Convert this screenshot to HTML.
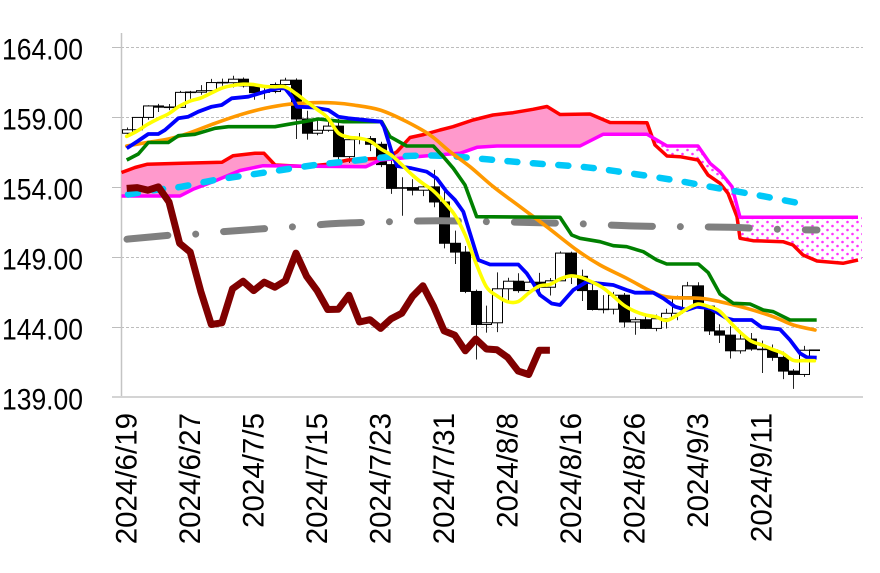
<!DOCTYPE html>
<html><head><meta charset="utf-8">
<style>
html,body{margin:0;padding:0;background:#fff;}
svg{display:block;}
text{font-family:"Liberation Sans","Noto Sans CJK JP",sans-serif;fill:#000;}
</style></head>
<body>
<svg id="c" width="880" height="573" viewBox="0 0 880 573" xmlns="http://www.w3.org/2000/svg">
<defs>
<pattern id="dots" width="10" height="8" patternUnits="userSpaceOnUse">
<rect width="10" height="8" fill="#fff"/>
<circle cx="2.5" cy="2" r="1.3" fill="#ff33ff"/>
<circle cx="7.5" cy="6" r="1.3" fill="#ff33ff"/>
</pattern>
</defs>
<rect width="880" height="573" fill="#fff"/>
<g stroke="#bdbdbd" stroke-width="1" stroke-dasharray="3 2">
<line x1="121" y1="47.5" x2="863" y2="47.5"/>
<line x1="121" y1="117.5" x2="863" y2="117.5"/>
<line x1="121" y1="187.5" x2="863" y2="187.5"/>
<line x1="121" y1="257.5" x2="863" y2="257.5"/>
<line x1="121" y1="327.5" x2="863" y2="327.5"/>
</g>
<g stroke="#bdbdbd" stroke-width="1">
<line x1="112" y1="47.5" x2="121" y2="47.5"/>
<line x1="112" y1="117.5" x2="121" y2="117.5"/>
<line x1="112" y1="187.5" x2="121" y2="187.5"/>
<line x1="112" y1="257.5" x2="121" y2="257.5"/>
<line x1="112" y1="327.5" x2="121" y2="327.5"/>
</g>
<line x1="121.5" y1="33" x2="121.5" y2="397" stroke="#c4c4c4" stroke-width="1.5"/>
<line x1="112" y1="397" x2="863" y2="397" stroke="#d4d4d4" stroke-width="2"/>
<g font-size="30">
<text x="2" y="59.5" textLength="81" lengthAdjust="spacingAndGlyphs">164.00</text>
<text x="2" y="129.5" textLength="81" lengthAdjust="spacingAndGlyphs">159.00</text>
<text x="2" y="199.5" textLength="81" lengthAdjust="spacingAndGlyphs">154.00</text>
<text x="2" y="269.5" textLength="81" lengthAdjust="spacingAndGlyphs">149.00</text>
<text x="2" y="339.5" textLength="81" lengthAdjust="spacingAndGlyphs">144.00</text>
<text x="2" y="409.5" textLength="81" lengthAdjust="spacingAndGlyphs">139.00</text>
</g>
<g font-size="29.5" text-anchor="end">
<text x="136.7" y="413" transform="rotate(-90 136.7 413)">2024/6/19</text>
<text x="200.2" y="413" transform="rotate(-90 200.2 413)">2024/6/27</text>
<text x="263.7" y="413" transform="rotate(-90 263.7 413)">2024/7/5</text>
<text x="327.1" y="413" transform="rotate(-90 327.1 413)">2024/7/15</text>
<text x="390.6" y="413" transform="rotate(-90 390.6 413)">2024/7/23</text>
<text x="454.1" y="413" transform="rotate(-90 454.1 413)">2024/7/31</text>
<text x="517.6" y="413" transform="rotate(-90 517.6 413)">2024/8/8</text>
<text x="581.1" y="413" transform="rotate(-90 581.1 413)">2024/8/16</text>
<text x="644.5" y="413" transform="rotate(-90 644.5 413)">2024/8/26</text>
<text x="708.0" y="413" transform="rotate(-90 708.0 413)">2024/9/3</text>
<text x="771.5" y="413" transform="rotate(-90 771.5 413)">2024/9/11</text>
</g>
<g id="dyn"></g>
</svg>
<script>
(function(){
var NS="http://www.w3.org/2000/svg";
var g=document.getElementById("dyn");
function el(tag,attrs){var e=document.createElementNS(NS,tag);for(var k in attrs)e.setAttribute(k,attrs[k]);g.appendChild(e);return e;}
var X=function(i){return 126.7+10.58*i;};
var Y=function(p){return 47+(164-p)*14;};
var D=[
[157.84,158.25,157.70,158.09],[158.09,159.00,157.96,158.97],[158.97,159.84,158.80,159.79],[159.79,159.94,159.36,159.70],
[159.70,159.93,159.49,159.69],[159.69,160.87,159.66,160.76],[160.76,160.87,160.30,160.77],[160.77,161.28,160.59,160.88],
[160.88,161.72,160.80,161.46],[161.46,161.74,161.23,161.45],[161.45,161.95,161.11,161.70],[161.70,161.82,161.11,161.22],
[161.22,161.31,160.23,160.74],[160.74,161.11,160.27,160.82],[160.82,161.46,160.70,161.32],[161.32,161.80,161.16,161.63],
[161.63,161.76,157.43,158.86],[158.86,159.45,157.38,157.84],[157.84,158.85,157.70,158.05],[158.05,158.84,157.95,158.35],
[158.35,158.86,155.38,156.17],[156.17,157.44,155.72,157.38],[157.38,157.86,157.05,157.46],[157.46,157.64,156.56,157.05],
[157.05,157.23,155.42,155.60],[155.60,155.99,153.51,153.90],[153.90,154.70,151.95,153.96],[153.96,154.55,153.40,153.77],
[153.77,154.25,153.35,154.01],[154.01,155.22,152.55,152.93],[152.93,153.90,149.62,149.98],[149.98,150.88,148.50,149.35],
[149.35,149.79,146.42,146.54],[146.54,146.67,141.68,144.18],[144.18,145.53,143.60,144.30],[144.30,147.90,143.63,146.73],
[146.73,147.52,145.83,147.27],[147.27,147.84,146.45,146.60],[146.60,147.70,146.35,147.20],[147.20,147.87,146.50,146.84],
[146.84,147.50,146.25,147.30],[147.30,149.40,147.30,149.28],[149.28,149.38,147.07,147.62],[147.62,148.10,145.86,146.60],
[146.60,147.05,145.18,145.25],[145.25,146.28,144.97,145.27],[145.27,146.51,144.90,146.27],[146.27,146.43,143.96,144.36],
[144.36,144.70,143.45,144.52],[144.52,144.87,143.86,143.90],[143.90,144.88,143.70,144.59],[144.59,145.30,143.89,144.98],
[144.98,146.24,144.48,146.17],[146.17,147.22,145.97,146.94],[146.94,147.20,145.35,145.49],[145.49,145.55,143.43,143.72],
[143.72,144.20,142.86,143.42],[143.42,144.05,141.75,142.30],[142.30,143.76,142.10,143.14],[143.14,143.57,142.30,142.43],
[142.43,143.03,140.71,142.37],[142.37,142.75,141.59,141.83],[141.83,142.25,140.28,140.85],[140.85,141.00,139.58,140.61],
[140.61,142.65,140.44,142.34],[142.34,142.34,142.34,142.34]
];
function pl(pts){return pts.map(function(p){return p[0].toFixed(1)+","+p[1].toFixed(1);}).join(" ");}
function smooth(p){
 var d="M"+p[0][0].toFixed(1)+","+p[0][1].toFixed(1);
 for(var i=0;i<p.length-1;i++){
  var p0=p[i-1]||p[i],p1=p[i],p2=p[i+1],p3=p[i+2]||p2;
  var c1x=p1[0]+(p2[0]-p0[0])/6,c1y=p1[1]+(p2[1]-p0[1])/6;
  var c2x=p2[0]-(p3[0]-p1[0])/6,c2y=p2[1]-(p3[1]-p1[1])/6;
  d+=" C"+c1x.toFixed(1)+","+c1y.toFixed(1)+" "+c2x.toFixed(1)+","+c2y.toFixed(1)+" "+p2[0].toFixed(1)+","+p2[1].toFixed(1);
 }
 return d;
}
var red=[[121.5,172.5],[135,167.5],[147,164.3],[182,163.3],[222,162.3],[233,155.7],[255,153.3],[264,153.3],[275,165],[305,166.5],[328,164.3],[348,160],[376,158.5],[390,156],[397,151.7],[410,137.5],[424,134.5],[440,130],[453,126.7],[473,120],[493,115],[513,112.7],[533,109.3],[547,106.5],[560,114.5],[590,114],[610,122.5],[647,122.7],[655,145],[667,156],[680,156.7],[698,160],[708,175],[720,183.3],[728,193.3],[737,216.7],[740,238.3],[753,240.7],[783,241.7],[793,245],[803,255],[817,261],[843,263.3],[858,260]];
var mag=[[121.5,196],[180,196],[193,189.3],[213,181.7],[240,170.5],[263,165.7],[366,166.7],[380,160],[390,159.3],[410,157.3],[437,155],[460,153.3],[477,147.3],[497,146],[580,146],[603,134.3],[647,134.3],[667,146],[698,146],[710,163.3],[720,171.7],[732,186.7],[740,217.3],[858,217.3]];
var cross=[652.3,137.5];
var A=red.filter(function(p){return p[0]<=647;}).concat([cross]).concat(mag.filter(function(p){return p[0]<=647;}).reverse());
el("polygon",{points:pl(A),fill:"#ff99cc",stroke:"none"});
var B=[cross].concat(mag.filter(function(p){return p[0]>=667;})).concat([[862,217.3],[862,259.5]]).concat(red.filter(function(p){return p[0]>=655;}).reverse());
el("polygon",{points:pl(B),fill:"url(#dots)",stroke:"none"});
for(var i=0;i<D.length;i++){
 var o=D[i][0],h=D[i][1],l=D[i][2],c=D[i][3];
 var xc=Math.round(X(i))+0.5;
 if(h-l>0.02) el("line",{x1:xc,y1:Y(h),x2:xc,y2:Y(l),stroke:"#222","stroke-width":1});
 var top=Y(Math.max(o,c)),bot=Y(Math.min(o,c));
 if(bot-top<1.2){
  el("line",{x1:xc-5.5,y1:(top+bot)/2,x2:xc+5.5,y2:(top+bot)/2,stroke:"#000","stroke-width":1.6});
 } else {
  el("rect",{x:xc-5,y:top,width:10,height:bot-top,fill:(c<o?"#000":"#fff"),stroke:"#000","stroke-width":1});
 }
}
el("polyline",{points:pl(red),fill:"none",stroke:"#ff0000","stroke-width":3.5,"stroke-linejoin":"round"});
el("polyline",{points:pl(mag),fill:"none",stroke:"#ff00ff","stroke-width":3.5,"stroke-linejoin":"round"});
var gray=[[127,239.2],[173,235],[197,234],[222,231.7],[270,228.3],[295,226.7],[340,223.3],[392,221.7],[440,220.7],[488,221.7],[540,222.7],[586,224],[635,226],[683,226.7],[730,227.3],[780,229.3],[817,230]];
el("path",{d:smooth(gray),fill:"none",stroke:"#808080","stroke-width":7,"stroke-linecap":"round","stroke-dasharray":"41 28 0.01 28"});
var cyan=[[128,194.5],[155,190],[181.7,186.7],[215,180],[248.3,175],[281.7,170],[315,165],[345,161.7],[393.3,156.7],[440,155.7],[486.7,159.3],[533.3,163.3],[586.7,167.3],[630,173.3],[673.3,180],[713.3,187.3],[756.7,195],[808,205]];
el("path",{d:smooth(cyan),fill:"none",stroke:"#00c8f8","stroke-width":6.5,"stroke-linecap":"round","stroke-dasharray":"10 15.5"});
var orange=[[126.7,146],[148.3,142.3],[168.3,139],[188.3,133.3],[215,123.3],[241.7,114.3],[265,108.3],[288.3,104.3],[313.3,102.7],[335,103],[353.3,105],[380,110],[406.7,121.7],[430,135],[450,151.7],[470,166.7],[493.3,186.7],[520,206.7],[546.7,226.7],[576.7,250],[600,265],[626.7,278.3],[653.3,292.5],[670,297.3],[700,298.3],[720,301.7],[746.7,308.3],[773.3,316.7],[793.3,325],[815,330]];
el("path",{d:smooth(orange),fill:"none",stroke:"#ff9900","stroke-width":3.6,"stroke-linecap":"round"});
var green=[[126.7,160],[138.3,154],[148.3,142.5],[168.3,142.5],[178.3,135.7],[195,134.3],[215,128.3],[228.3,126.7],[275,126.7],[288.3,124.3],[305,121.5],[318.3,119],[343.3,121.7],[381.7,121.7],[390,136.7],[406.7,146],[433.3,146],[443.3,156.7],[453.3,168.3],[465,185],[476.7,216.7],[560,217.3],[571.7,235],[580,238.3],[600,241.7],[613.3,245.7],[626.7,246.7],[643.3,251.7],[656.7,260],[666.7,264],[698.3,264],[708.3,272.7],[720,294],[733.3,303.3],[750,304],[763.3,310],[773.3,311.7],[790,320],[816.7,320]];
el("polyline",{points:pl(green),fill:"none",stroke:"#008000","stroke-width":3.6,"stroke-linejoin":"round"});
var blue=[[126.7,148.3],[138,141],[148.3,134],[158.3,134],[165,130],[178.3,118.3],[188.3,116.7],[198.3,111.7],[211.7,106.7],[221.7,105],[231.7,98.3],[248.3,96.7],[265,91.7],[278.3,88.3],[285,88.3],[291.7,96.7],[296.7,106.7],[311.7,107.3],[328.3,110],[338.3,116.7],[348.3,118.3],[381,121.7],[384,127],[392,153],[397,166],[411.7,168.3],[426.7,171.7],[436.7,178.3],[446.7,191.7],[455,200],[463.3,211.7],[470,233.3],[478.3,260],[490,264.5],[518.3,264.5],[526.7,273.3],[533.3,283.3],[540,295],[551.7,303.5],[560,305],[573.3,290],[586.7,281.7],[596.7,283.3],[613.3,285],[626.7,290],[635,292.7],[653.3,292.7],[663.3,298.3],[675,306.7],[686.7,310],[696.7,306.7],[710,308.3],[726.7,318.3],[733.3,320],[751.7,320],[761.7,327.3],[780,329.3],[790,340],[800,353.3],[806.7,357.3],[816.7,357.7]];
el("polyline",{points:pl(blue),fill:"none",stroke:"#0000ff","stroke-width":3.8,"stroke-linejoin":"round"});
var closes=[157.03,157.38,157.74,157.84].concat(D.map(function(d){return d[3];}));
var yel=[];
for(var i=0;i<D.length;i++){var s=0;for(var k=i;k<i+5;k++)s+=closes[k];yel.push([X(i),Y(s/5)]);}
el("path",{d:smooth(yel),fill:"none",stroke:"#ffff00","stroke-width":3.6,"stroke-linecap":"round"});
var ch=[];
for(var k=25;k<D.length;k++){ch.push([X(k-25),Y(D[k][3])]);}
el("polyline",{points:pl(ch),fill:"none",stroke:"#800000","stroke-width":7,"stroke-linejoin":"round","stroke-linecap":"butt"});
})();
</script>
</body></html>
